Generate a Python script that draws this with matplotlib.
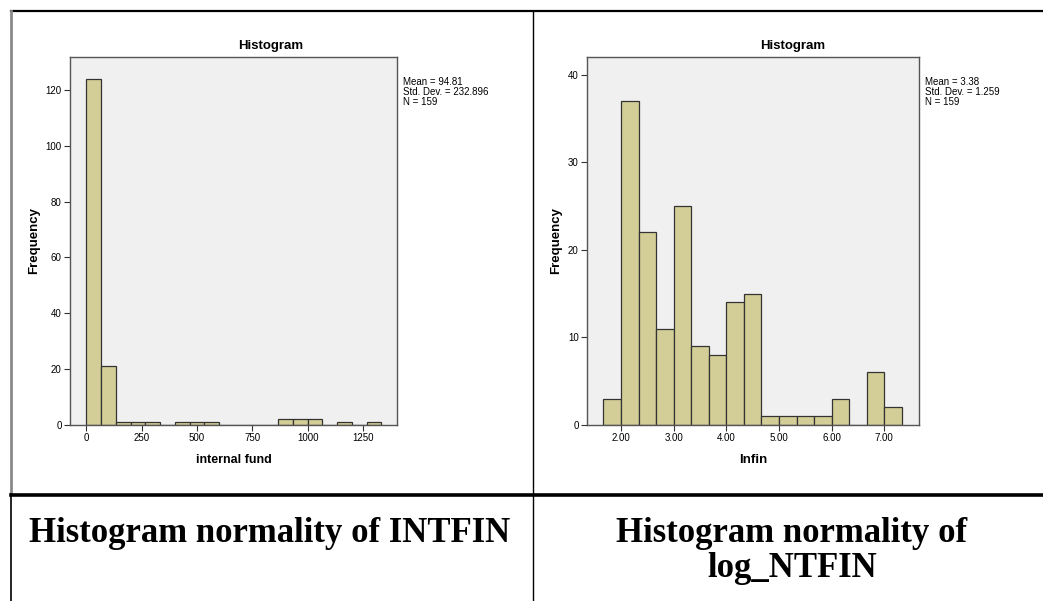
import matplotlib
matplotlib.use("Agg")
import matplotlib.pyplot as plt
import numpy as np

plt.rcParams['font.family'] = ['Liberation Sans', 'DejaVu Sans']

# left histogram: internal fund
fund_start = 0.0
fund_width = 66.67
fund_counts = [124, 21, 1, 1, 1, 0, 1, 1, 1, 0, 0, 0, 0, 2, 2, 2, 0, 1, 0, 1]
fund_ticks = [0, 250, 500, 750, 1000, 1250]
fund_yticks = [0, 20, 40, 60, 80, 100, 120]
fund_stats = ["Mean = 94.81", "Std. Dev. = 232.896", "N = 159"]

# right histogram: lnfin
ln_start = 5 / 3
ln_width = 1 / 3
ln_counts = [3, 37, 22, 11, 25, 9, 8, 14, 15, 1, 1, 1, 1, 3, 0, 6, 2]
ln_ticks = [2, 3, 4, 5, 6, 7]
ln_yticks = [0, 10, 20, 30, 40]
ln_stats = ["Mean = 3.38", "Std. Dev. = 1.259", "N = 159"]

captions = ["Histogram normality of INTFIN", "Histogram normality of", "log_NTFIN"]

W, H = 1043, 601
fig = plt.figure(figsize=(W / 100, H / 100), dpi=100)
fig.patch.set_facecolor('white')

# table lines (layout only)
bg = fig.add_axes([0, 0, 1, 1])
bg.set_xlim(0, W)
bg.set_ylim(H, 0)
bg.axis('off')
bg.plot([11, W], [11, 11], color='black', lw=1.6)
bg.plot([11, 11], [11, 494], color='#8a8a8a', lw=2)
bg.plot([11, 11], [494, H], color='black', lw=1.2)
bg.plot([532.5, 532.5], [11, H], color='black', lw=1.0)
bg.plot([11, W], [494.5, 494.5], color='black', lw=2.6)

bar_col = '#D3CE97'
edge_col = '#333333'
small = ['Liberation Sans Narrow', 'Liberation Sans', 'DejaVu Sans']


def px_axes(l, t, r, b):
    return fig.add_axes([l / W, 1 - b / H, (r - l) / W, (b - t) / H])


def draw_hist(ax, start, width, counts, xlim, ylim, xt, yt, fmt):
    edges = start + width * np.arange(len(counts))
    ax.bar(edges, counts, width=width, align='edge', color=bar_col,
           edgecolor=edge_col, linewidth=0.9, zorder=2)
    ax.set_facecolor('#F0F0F0')
    ax.set_xlim(*xlim)
    ax.set_ylim(*ylim)
    ax.set_xticks(xt)
    ax.set_xticklabels([fmt(v) for v in xt], fontsize=7, family=small)
    ax.set_yticks(yt)
    ax.set_yticklabels([str(v) for v in yt], fontsize=7, family=small)
    ax.tick_params(direction='out', length=4, width=0.8, color='#333333', pad=2)
    for s in ax.spines.values():
        s.set_color('#555555')
        s.set_linewidth(1.0)


ax1 = px_axes(70, 57, 397, 425)
draw_hist(ax1, fund_start, fund_width, fund_counts, (-73.6, 1403.6), (0, 131.8),
          fund_ticks, fund_yticks, lambda v: str(v))
ax1.set_xlabel("internal fund", fontsize=9, fontweight='bold', labelpad=8)
ax1.set_ylabel("Frequency", fontsize=9.5, fontweight='bold', labelpad=4)

ax2 = px_axes(587, 57, 919, 425)
draw_hist(ax2, ln_start, ln_width, ln_counts, (1.354, 7.658), (0, 42.03),
          ln_ticks, ln_yticks, lambda v: "%.2f" % v)
ax2.set_xlabel("lnfin", fontsize=9.5, fontweight='bold', labelpad=8)
ax2.set_ylabel("Frequency", fontsize=9.5, fontweight='bold', labelpad=4)

# titles and stats
for cx in [271, 793]:
    fig.text(cx / W, 1 - 46 / H, "Histogram", ha='center', va='center',
             fontsize=9.5, fontweight='bold')
for sx, stats in [(403, fund_stats), (925, ln_stats)]:
    for i, s in enumerate(stats):
        fig.text(sx / W, 1 - (82 + 10 * i) / H, s, ha='left', va='center',
                 fontsize=7, family=small)

# captions
cap = dict(ha='center', va='baseline', fontsize=25, fontweight='bold',
           family=['Liberation Serif', 'DejaVu Serif'])
fig.text(270 / W, 1 - 542 / H, captions[0], **cap)
fig.text(792 / W, 1 - 542 / H, captions[1], **cap)
fig.text(792 / W, 1 - 577 / H, captions[2], **cap)

fig.savefig("out.png", dpi=100, facecolor='white')
